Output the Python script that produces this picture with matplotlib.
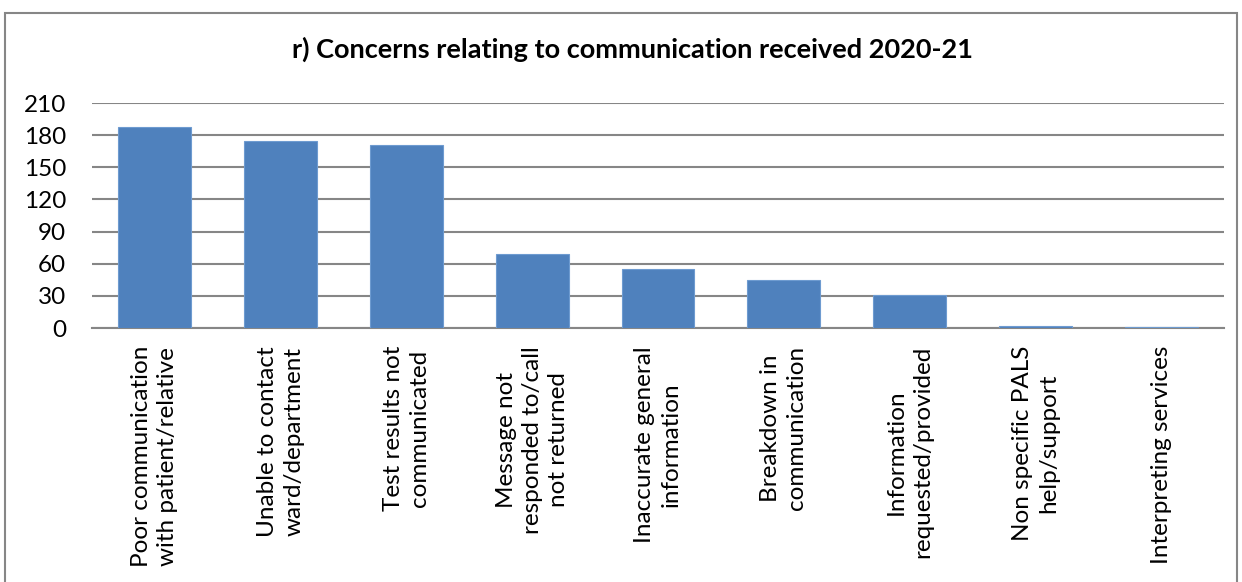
import matplotlib.pyplot as plt
from matplotlib.patches import Rectangle

# Concerns relating to communication, 2020-21
categories = [
    "Poor communication\nwith patient/relative",
    "Unable to contact\nward/department",
    "Test results not\ncommunicated",
    "Message not\nresponded to/call\nnot returned",
    "Inaccurate general\ninformation",
    "Breakdown in\ncommunication",
    "Information\nrequested/provided",
    "Non specific PALS\nhelp/support",
    "Interpreting services",
]
counts = [188, 175, 171, 69, 55, 45, 31, 2, 1]
y_ticks = [0, 30, 60, 90, 120, 150, 180, 210]

plt.rcParams['font.family'] = ['Lato', 'DejaVu Sans']

fig = plt.figure(figsize=(12.42, 5.82), dpi=100)
ax = fig.add_axes([0.0741, 0.4364, 0.9114, 0.3866])

# grey frame round the whole chart
fig.patches.append(Rectangle((5 / 1242, -0.05), 1232 / 1242, 1.05 - 13 / 582,
                             transform=fig.transFigure, fill=False,
                             edgecolor='#868686', linewidth=1.5))

x = range(len(categories))
ax.bar(x, counts, width=0.58, color='#4F81BD', edgecolor='#6E9BD0',
       linewidth=0.8, zorder=3)

ax.set_ylim(0, 210)
ax.set_xlim(-0.5, len(categories) - 0.5)
ax.set_yticks(y_ticks)
ax.set_yticklabels([str(v) for v in y_ticks], fontsize=17.5)
ax.set_xticks(list(x))
ax.set_xticklabels(categories, rotation=90, fontsize=17.5,
                   ha='center', va='top', linespacing=1.3)
ax.tick_params(axis='x', length=0, pad=13)
ax.tick_params(axis='y', length=0, pad=18.5)

ax.grid(axis='y', color='#868686', linewidth=1.5, zorder=0)
for side in ['top', 'right', 'left']:
    ax.spines[side].set_visible(False)
ax.spines['bottom'].set_color('#868686')
ax.spines['bottom'].set_linewidth(1.5)

fig.text(0.509, 0.915, "r) Concerns relating to communication received 2020-21",
         ha='center', va='center', fontsize=19.5, fontweight='bold')

plt.savefig('out.png', dpi=100)
